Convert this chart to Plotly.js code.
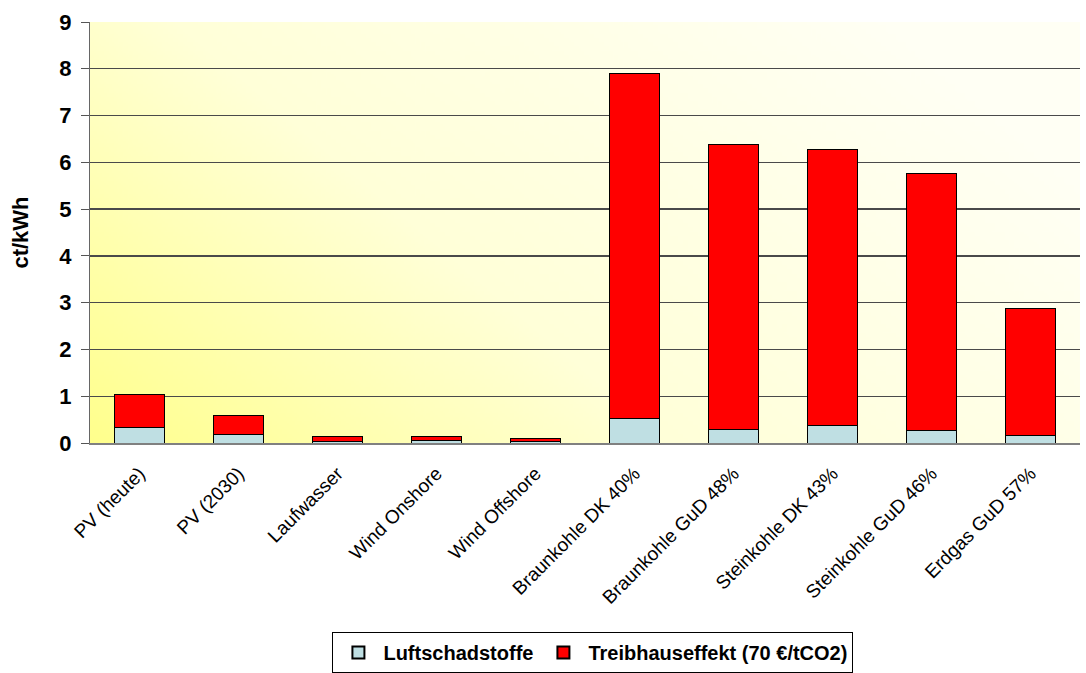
<!DOCTYPE html>
<html>
<head>
<meta charset="utf-8">
<script src="https://cdn.plot.ly/plotly-3.0.1.min.js"></script>
<style>html,body{margin:0;padding:0;background:#fff;}#chart{width:1086px;height:673px;}</style>
</head>
<body>
<div id="chart"></div>
<script>
const categories = ["PV (heute)", "PV (2030)", "Laufwasser", "Wind Onshore", "Wind Offshore",
  "Braunkohle DK 40%", "Braunkohle GuD 48%", "Steinkohle DK 43%", "Steinkohle GuD 46%", "Erdgas GuD 57%"];
const luftschadstoffe = [0.33, 0.19, 0.04, 0.06, 0.03, 0.53, 0.28, 0.38, 0.26, 0.16];
const treibhauseffekt = [0.70, 0.39, 0.095, 0.075, 0.06, 7.37, 6.10, 5.89, 5.50, 2.71];
const seriesNames = ["Luftschadstoffe", "Treibhauseffekt (70 €/tCO2)"];
const yTicks = [0, 1, 2, 3, 4, 5, 6, 7, 8, 9];

// gradient background for plot area
const cv = document.createElement('canvas');
cv.width = 400; cv.height = 200;
const ctx = cv.getContext('2d');
const g = ctx.createLinearGradient(0, 200, 260, -60);
g.addColorStop(0, '#FFFF8C');
g.addColorStop(0.45, '#FFFFD8');
g.addColorStop(1, '#FFFFF4');
ctx.fillStyle = g;
ctx.fillRect(0, 0, 400, 200);
const bgUrl = cv.toDataURL('image/png');

const font = "Liberation Sans, Arial, sans-serif";

const traces = [
  {
    type: 'bar', name: seriesNames[0], x: categories, y: luftschadstoffe,
    marker: {color: '#BFDFE3', line: {color: '#000000', width: 1}}
  },
  {
    type: 'bar', name: seriesNames[1], x: categories, y: treibhauseffekt,
    marker: {color: '#FF0000', line: {color: '#000000', width: 1}}
  }
];

const layout = {
  width: 1086, height: 673,
  margin: {l: 90, r: 6, t: 22, b: 230, autoexpand: false},
  paper_bgcolor: '#FFFFFF',
  plot_bgcolor: 'rgba(0,0,0,0)',
  barmode: 'stack',
  bargap: 0.495,
  showlegend: true,
  legend: {
    orientation: 'h', x: 0.508, xanchor: 'center', y: -0.4489, yanchor: 'top',
    bordercolor: '#000000', borderwidth: 1, bgcolor: '#FFFFFF',
    font: {family: font, size: 20, color: '#000000', weight: 'bold'},
    traceorder: 'normal', itemsizing: 'constant', itemwidth: 40
  },
  xaxis: {
    type: 'category', tickangle: -45, automargin: false,
    tickfont: {family: font, size: 19, color: '#000000'},
    showgrid: false, showline: true, linecolor: '#808080', linewidth: 2,
    ticks: '', ticklabelstandoff: 10, fixedrange: true
  },
  yaxis: {
    range: [0, 9], tickvals: yTicks, ticktext: yTicks.map(String), automargin: false,
    tickfont: {family: font, size: 22, color: '#000000', weight: 'bold'},
    showgrid: true, gridcolor: '#4A4A4A', gridwidth: 1.3,
    zeroline: false, showline: true, linecolor: '#666666', linewidth: 1,
    ticks: 'outside', ticklen: 8, tickcolor: '#555555', ticklabelstandoff: 5,
    title: {text: 'ct/kWh', font: {family: font, size: 22, color: '#000000', weight: 'bold'}, standoff: 24},
    fixedrange: true
  },
  images: [{
    source: bgUrl, xref: 'paper', yref: 'paper', x: 0, y: 1, sizex: 1, sizey: 1,
    sizing: 'stretch', layer: 'below', xanchor: 'left', yanchor: 'top'
  }]
};

Plotly.newPlot('chart', traces, layout, {displayModeBar: false, staticPlot: true});
</script>
</body>
</html>
